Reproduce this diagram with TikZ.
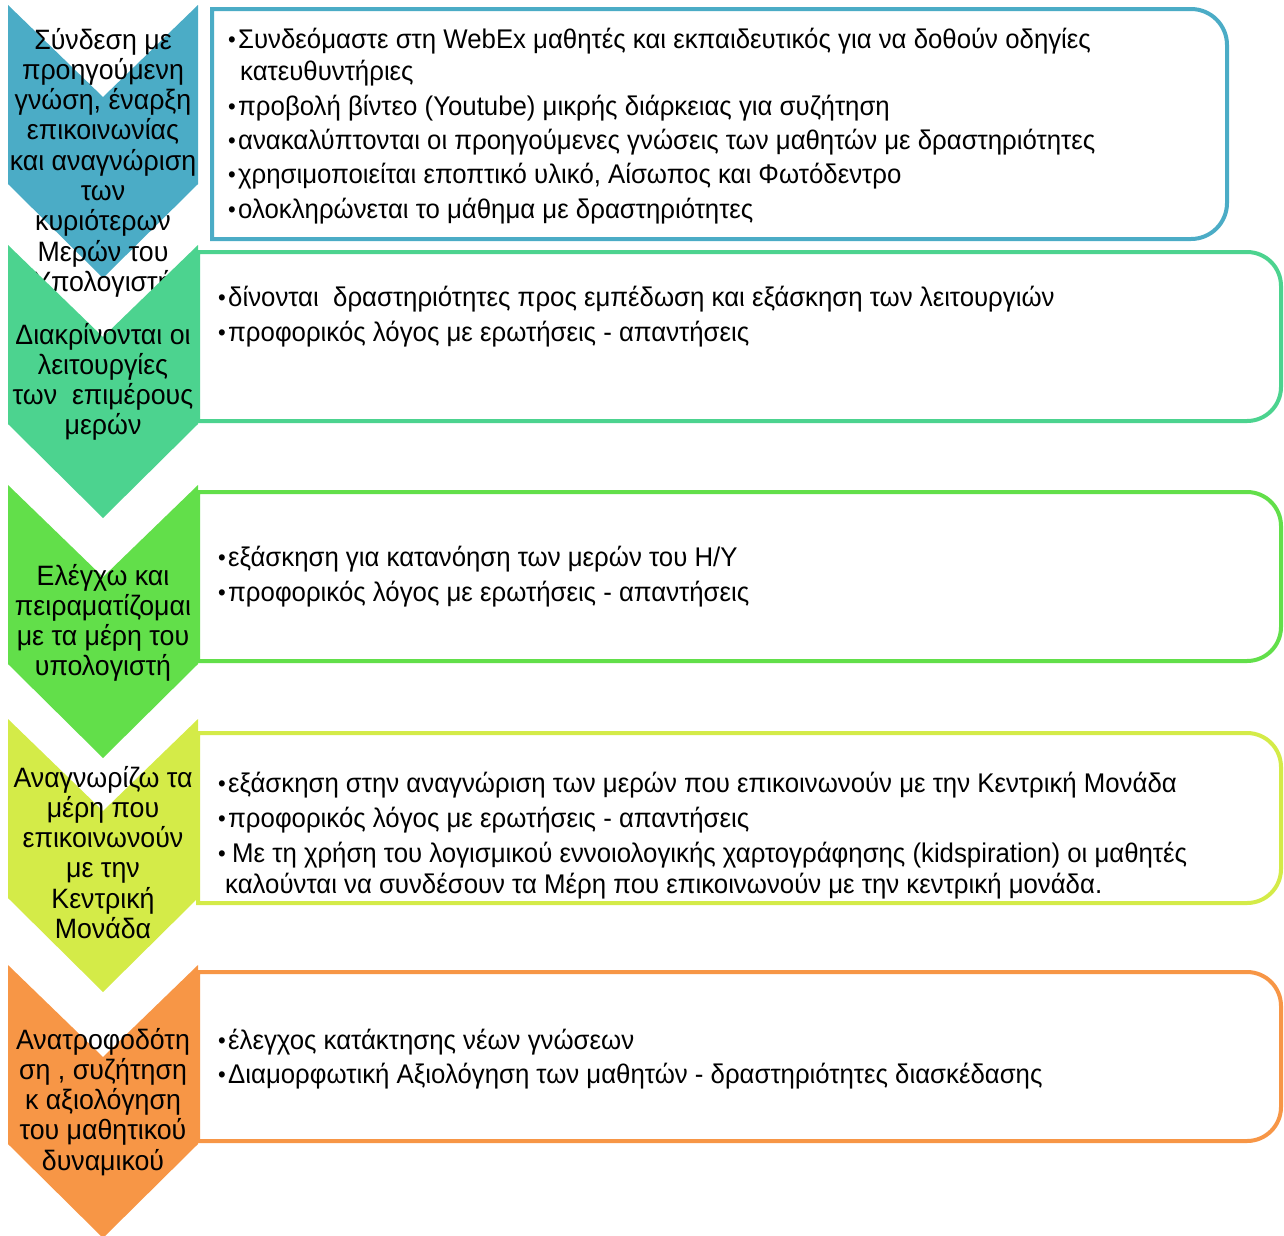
\documentclass[tikz,border=0pt]{standalone}
\usepackage{fontspec}
\setmainfont{Liberation Sans}[FakeStretch=0.955]
\definecolor{cA}{HTML}{4BACC6}
\definecolor{cB}{HTML}{4CD38F}
\definecolor{cC}{HTML}{62DF4A}
\definecolor{cD}{HTML}{D4EB48}
\definecolor{cE}{HTML}{F79646}
\newcommand\chevshape[2]{\fill[#2] (8,#1) -- (103,{#1+92}) -- (198,#1) -- (198,{#1+179}) -- (103,{#1+273}) -- (8,{#1+179}) -- cycle;}
\newcommand\rbox[6]{\draw[boxline,draw=#5,fill=white] (#1,#2) -- ({#3-#6},#2) arc[start angle=270,end angle=360,radius=#6] -- (#3,{#4-#6}) arc[start angle=0,end angle=90,radius=#6] -- (#1,#4) -- cycle;}
\newcommand\bul{\makebox[10pt][l]{\fontsize{23}{23}\selectfont\raisebox{0.5pt}{•}}}
\tikzset{
  boxline/.style={line width=4pt},
  ctext/.style={anchor=base,inner sep=0pt,font=\fontsize{28}{28}\selectfont},
  btext/.style={anchor=base west,inner sep=0pt,font=\fontsize{27}{27}\selectfont},
}
\begin{document}
\begin{tikzpicture}[x=1pt,y=-1pt]
\useasboundingbox (0,0) rectangle (1284,1235);
% ---- stage 1
\chevshape{5}{cA}
\foreach \t [count=\i] in {Σύνδεση με,προηγούμενη,{γνώση, έναρξη},επικοινωνίας,και αναγνώριση,των,κυριότερων,Μερών του,Υπολογιστή}
  \node[ctext] (a\i) at (103,{49+30.3*(\i-1)}) {\t};
\rbox{212}{9}{1227}{239}{cA}{36}
\node[btext] (a-b1) at (228,48) {\bul Συνδεόμαστε στη WebEx μαθητές και εκπαιδευτικός για να δοθούν οδηγίες};
\node[btext] (a-b1b) at (240,80) {κατευθυντήριες};
\node[btext] (a-b2) at (228,115) {\bul προβολή βίντεο (Youtube) μικρής διάρκειας για συζήτηση};
\node[btext] (a-b3) at (228,149) {\bul ανακαλύπτονται οι προηγούμενες γνώσεις των μαθητών με δραστηριότητες};
\node[btext] (a-b4) at (228,183) {\bul χρησιμοποιείται εποπτικό υλικό, Αίσωπος και Φωτόδεντρο};
\node[btext] (a-b5) at (228,218) {\bul ολοκληρώνεται το μάθημα με δραστηριότητες};
% ---- stage 2
\chevshape{245}{cB}
\foreach \t [count=\i] in {Διακρίνονται οι,λειτουργίες,των\ \ επιμέρους,μερών}
  \node[ctext] (b\i) at (103,{344+30.3*(\i-1)}) {\t};
\rbox{198}{252}{1281}{421}{cB}{34}
\node[btext] (b-b1) at (218,306) {\bul δίνονται\ \ δραστηριότητες προς εμπέδωση και εξάσκηση των λειτουργιών};
\node[btext] (b-b2) at (218,341) {\bul προφορικός λόγος με ερωτήσεις - απαντήσεις};
% ---- stage 3
\chevshape{485}{cC}
\foreach \t [count=\i] in {Ελέγχω και,πειραματίζομαι,με τα μέρη του,υπολογιστή}
  \node[ctext] (c\i) at (103,{585+30.3*(\i-1)}) {\t};
\rbox{198}{492}{1281}{661}{cC}{34}
\node[btext] (c-b1) at (218,566) {\bul εξάσκηση για κατανόηση των μερών του Η/Υ};
\node[btext] (c-b2) at (218,601) {\bul προφορικός λόγος με ερωτήσεις - απαντήσεις};
% ---- stage 4
\chevshape{719}{cD}
\foreach \t [count=\i] in {Αναγνωρίζω τα,μέρη που,επικοινωνούν,με την,Κεντρική,Μονάδα}
  \node[ctext] (d\i) at (103,{787+30.3*(\i-1)}) {\t};
\rbox{198}{733}{1281}{903}{cD}{34}
\node[btext] (d-b1) at (218,792) {\bul εξάσκηση στην αναγνώριση των μερών που επικοινωνούν με την Κεντρική Μονάδα};
\node[btext] (d-b2) at (218,827) {\bul προφορικός λόγος με ερωτήσεις - απαντήσεις};
\node[btext] (d-b3) at (218,862) {\bul\hspace{4pt}Με τη χρήση του λογισμικού εννοιολογικής χαρτογράφησης (kidspiration) οι μαθητές};
\node[btext] (d-b3b) at (225,893) {καλούνται να συνδέσουν τα Μέρη που επικοινωνούν με την κεντρική μονάδα.};
% ---- stage 5
\chevshape{965}{cE}
\foreach \t [count=\i] in {Ανατροφοδότη,{ση , συζήτηση},κ αξιολόγηση,του μαθητικού,δυναμικού}
  \node[ctext] (e\i) at (103,{1049+30.3*(\i-1)}) {\t};
\rbox{198}{972}{1281}{1141}{cE}{34}
\node[btext] (e-b1) at (218,1049) {\bul έλεγχος κατάκτησης νέων γνώσεων};
\node[btext] (e-b2) at (218,1083) {\bul Διαμορφωτική Αξιολόγηση των μαθητών - δραστηριότητες διασκέδασης};
\end{tikzpicture}
\end{document}
